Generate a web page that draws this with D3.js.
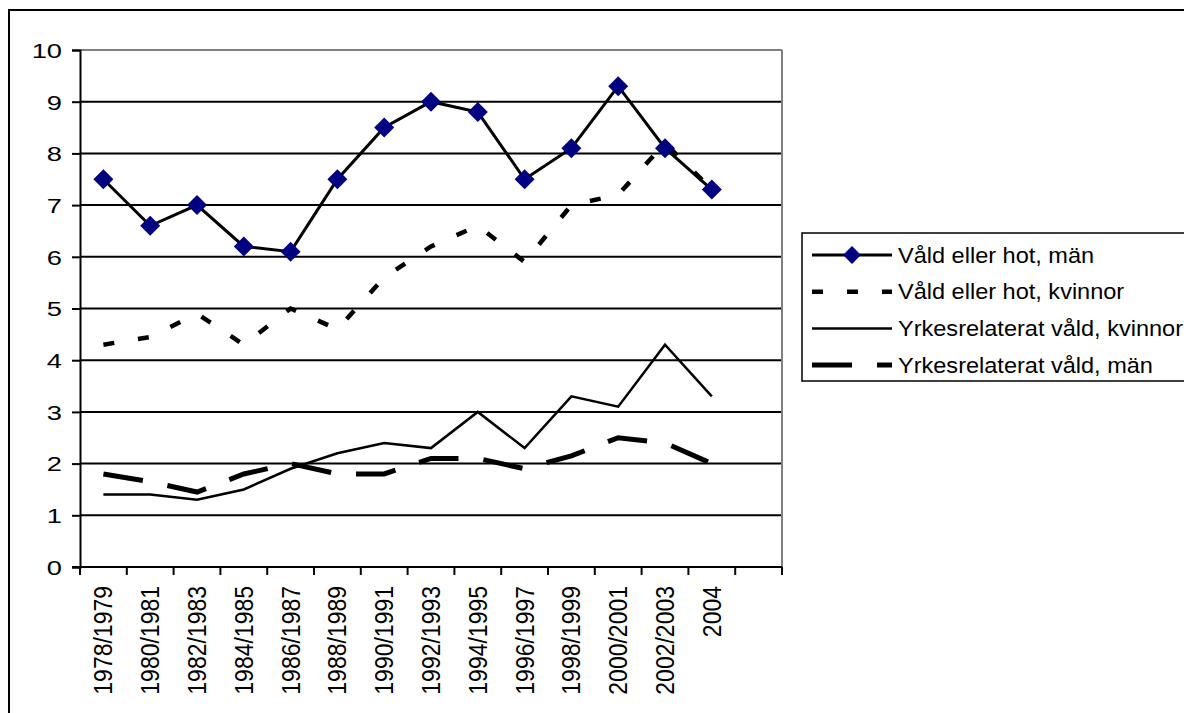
<!DOCTYPE html>
<html lang="sv">
<head>
    <meta charset="UTF-8">
    <title>Våld eller hot</title>
    <script src="https://d3js.org/d3.v7.min.js"></script>
    <style>
        body { margin: 0; background: #fff; }
        text { font-family: "Liberation Sans", Arial, sans-serif; fill: #000; }
    </style>
</head>
<body>
    <div id="chart"></div>

    <script>
        // data
        const categories = ["1978/1979", "1980/1981", "1982/1983", "1984/1985", "1986/1987", "1988/1989",
            "1990/1991", "1992/1993", "1994/1995", "1996/1997", "1998/1999", "2000/2001", "2002/2003", "2004"];
        const vhMan = [7.5, 6.6, 7.0, 6.2, 6.1, 7.5, 8.5, 9.0, 8.8, 7.5, 8.1, 9.3, 8.1, 7.3];
        const vhKvinnor = [4.3, 4.45, 4.9, 4.3, 5.0, 4.6, 5.6, 6.2, 6.6, 5.9, 7.0, 7.2, 8.2, 7.3];
        const yrkKvinnor = [1.4, 1.4, 1.3, 1.5, 1.9, 2.2, 2.4, 2.3, 3.0, 2.3, 3.3, 3.1, 4.3, 3.3];
        const yrkMan = [1.8, 1.65, 1.45, 1.8, 2.0, 1.8, 1.8, 2.1, 2.1, 1.9, 2.15, 2.5, 2.4, 2.0];
        const yTicks = [0, 1, 2, 3, 4, 5, 6, 7, 8, 9, 10];

        const series = [
            { name: "Våld eller hot, män", values: vhMan, width: 3, dash: null, marker: true },
            { name: "Våld eller hot, kvinnor", values: vhKvinnor, width: 4.5, dash: "11,24", marker: false },
            { name: "Yrkesrelaterat våld, kvinnor", values: yrkKvinnor, width: 2.5, dash: null, marker: false },
            { name: "Yrkesrelaterat våld, män", values: yrkMan, width: 5, dash: "40,25", marker: false }
        ];

        const width = 1184, height = 713;
        const plot = { left: 80, right: 782, top: 50, bottom: 567 };

        const svg = d3.select("#chart").append("svg")
            .attr("width", width)
            .attr("height", height);

        // outer frame
        svg.append("rect")
            .attr("x", 9).attr("y", 10)
            .attr("width", 1200).attr("height", 720)
            .attr("fill", "none").attr("stroke", "#000").attr("stroke-width", 2);

        // one empty slot after 2004
        const x = d3.scaleBand()
            .domain(categories.concat([""]))
            .range([plot.left, plot.right])
            .padding(0);

        const y = d3.scaleLinear()
            .domain([0, 10])
            .range([plot.bottom, plot.top]);

        // gridlines
        svg.append("g")
            .selectAll("line")
            .data(yTicks.filter(d => d > 0))
            .enter().append("line")
            .attr("x1", plot.left).attr("x2", plot.right)
            .attr("y1", d => y(d)).attr("y2", d => y(d))
            .attr("stroke", d => d === 10 ? "#808080" : "#000")
            .attr("stroke-width", 2);

        // right border of plot area
        svg.append("line")
            .attr("x1", plot.right).attr("x2", plot.right)
            .attr("y1", plot.top).attr("y2", plot.bottom)
            .attr("stroke", "#808080").attr("stroke-width", 2);

        // y axis
        const yAxis = svg.append("g")
            .attr("transform", `translate(${plot.left},0)`)
            .call(d3.axisLeft(y).tickValues(yTicks).tickSize(8).tickPadding(10));
        yAxis.selectAll("path, line").attr("stroke", "#000").attr("stroke-width", 2);
        yAxis.selectAll("text").remove();
        yAxis.selectAll("g.tick")
            .append("text")
            .attr("transform", "translate(-18,0) scale(1.3,1)")
            .attr("text-anchor", "end")
            .attr("dominant-baseline", "central")
            .style("font-size", "21px")
            .text(d => d);

        // x axis, ticks on the band edges
        const xAxis = svg.append("g")
            .attr("transform", `translate(0,${plot.bottom})`);
        xAxis.append("line")
            .attr("x1", plot.left - 8).attr("x2", plot.right)
            .attr("stroke", "#000").attr("stroke-width", 2);
        xAxis.selectAll("line.tick")
            .data(x.domain().concat(["end"]))
            .enter().append("line")
            .attr("class", "tick")
            .attr("x1", (d, i) => plot.left + i * x.bandwidth())
            .attr("x2", (d, i) => plot.left + i * x.bandwidth())
            .attr("y1", 0).attr("y2", 8)
            .attr("stroke", "#000").attr("stroke-width", 2);
        xAxis.selectAll("text")
            .data(categories)
            .enter().append("text")
            .attr("transform", d => `translate(${x(d) + x.bandwidth() / 2},19) rotate(-90) scale(1,1.12)`)
            .attr("text-anchor", "end")
            .attr("dominant-baseline", "central")
            .style("font-size", "23px")
            .text(d => d);

        const line = d3.line()
            .x((d, i) => x(categories[i]) + x.bandwidth() / 2)
            .y(d => y(d));

        // lines
        series.forEach(s => {
            svg.append("path")
                .datum(s.values)
                .attr("d", line)
                .attr("fill", "none")
                .attr("stroke", "#000")
                .attr("stroke-width", s.width)
                .attr("stroke-dasharray", s.dash)
                .attr("stroke-linejoin", "miter");
        });

        // diamonds
        const diamond = d3.symbol().type(d3.symbolSquare).size(200);
        svg.append("g")
            .selectAll("path")
            .data(vhMan)
            .enter().append("path")
            .attr("d", diamond)
            .attr("transform", (d, i) => `translate(${x(categories[i]) + x.bandwidth() / 2},${y(d)}) rotate(45)`)
            .attr("fill", "#000080");

        // legend
        const legend = svg.append("g");
        legend.append("rect")
            .attr("x", 802).attr("y", 233)
            .attr("width", 400).attr("height", 148)
            .attr("fill", "#fff").attr("stroke", "#000").attr("stroke-width", 1.5);

        series.forEach((s, i) => {
            const ly = 255 + i * 36.7;
            legend.append("line")
                .attr("x1", 812).attr("x2", 892)
                .attr("y1", ly).attr("y2", ly)
                .attr("stroke", "#000")
                .attr("stroke-width", s.width)
                .attr("stroke-dasharray", s.dash);
            if (s.marker) {
                legend.append("path")
                    .attr("d", d3.symbol().type(d3.symbolSquare).size(160))
                    .attr("transform", `translate(852,${ly}) rotate(45)`)
                    .attr("fill", "#000080");
            }
            legend.append("text")
                .attr("transform", `translate(898,${ly}) scale(1.07,1)`)
                .attr("dominant-baseline", "central")
                .style("font-size", "22px")
                .text(s.name);
        });
    </script>
</body>
</html>
